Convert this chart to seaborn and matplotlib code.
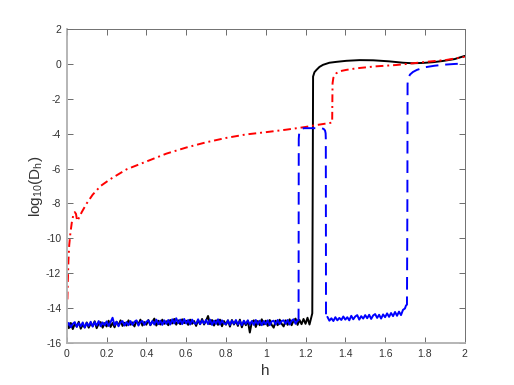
import numpy as np
import matplotlib
matplotlib.use("Agg")
import matplotlib.pyplot as plt
import seaborn as sns

# black curve: noisy floor (h = 0.00 .. 1.23, step 0.01) then the jump
black_noise = [
    -14.80, -15.15, -14.85, -15.20, -14.90, -15.05, -14.78, -15.18, -14.95, -15.10,
    -14.82, -15.12, -14.88, -15.02, -14.75, -15.15, -14.90, -14.80, -15.12, -14.86,
    -15.05, -14.72, -15.08, -14.85, -15.10, -14.78, -14.98, -14.70, -15.02, -14.84,
    -15.00, -14.70, -14.95, -14.82, -15.05, -14.74, -14.92, -14.66, -15.00, -14.80,
    -14.95, -14.68, -14.98, -14.78, -14.60, -15.00, -14.72, -14.94, -14.66, -14.90,
    -14.75, -14.98, -14.68, -14.88, -14.62, -14.95, -14.70, -14.92, -14.64, -14.86,
    -14.72, -14.96, -14.66, -14.90, -14.74, -15.02, -14.70, -14.92, -14.62, -14.94,
    -14.72, -14.45, -14.92, -14.68, -15.00, -14.70, -14.96, -14.66, -15.04, -14.74,
    -14.95, -14.70, -15.06, -14.68, -14.94, -14.74, -15.02, -14.66, -15.10, -14.76,
    -14.98, -14.72, -15.40, -14.80, -14.70, -15.08, -14.74, -14.98, -14.64, -14.94,
    -14.72, -15.02, -14.68, -14.96, -15.12, -14.72, -14.98, -14.66, -14.90, -15.05,
    -14.70, -14.96, -14.64, -14.98, -14.72, -14.60, -14.96, -14.68, -14.92, -14.62,
    -14.90, -14.55, -14.94, -14.50,
]
black_top_h = [1.234, 1.236, 1.238, 1.245, 1.255, 1.270, 1.288, 1.320, 1.355, 1.405,
               1.472, 1.540, 1.620, 1.690, 1.740, 1.790, 1.840, 1.890, 1.950, 2.000]
black_top_v = [-14.30, -8.00, -0.73, -0.48, -0.35, -0.18, -0.06, 0.06, 0.11, 0.17,
               0.21, 0.20, 0.14, 0.06, 0.03, 0.05, 0.09, 0.16, 0.27, 0.45]

# blue curve: floor, plateau near -3.7, second floor, final rise
blue_noise1 = [
    -15.05, -14.85, -15.10, -14.90, -14.80, -15.08, -14.86, -15.04, -14.82, -15.12,
    -14.85, -15.02, -14.78, -15.06, -14.80, -15.00, -14.74, -15.04, -14.82, -14.98,
    -14.76, -15.02, -14.80, -14.55, -14.98, -14.78, -15.04, -14.82, -14.74, -15.00,
    -14.80, -14.98, -14.74, -14.96, -14.78, -14.70, -15.00, -14.80, -14.74, -14.96,
    -14.78, -14.70, -14.96, -14.74, -14.94, -14.66, -14.92, -14.72, -14.96, -14.70,
    -14.90, -14.68, -14.94, -14.64, -14.88, -14.58, -14.86, -14.66, -14.92, -14.62,
    -14.88, -14.68, -14.94, -14.66, -14.86, -14.90, -14.64, -14.92, -14.70, -14.88,
    -14.68, -14.92, -14.66, -14.96, -14.72, -14.90, -14.64, -14.94, -14.70, -14.88,
    -14.92, -14.70, -14.96, -14.72, -14.90, -14.68, -14.94, -14.74, -14.98, -14.72,
    -14.90, -14.70, -14.94, -14.74, -14.96, -14.68, -14.92, -14.72, -14.98, -14.74,
    -14.92, -14.70, -14.98, -14.76, -14.72, -14.94, -14.68, -14.92, -14.74, -14.70,
    -14.90, -14.68, -14.94, -14.72, -14.64, -14.90, -14.70,
]
blue_plateau_h = [1.160, 1.165, 1.166, 1.168, 1.172, 1.180, 1.192, 1.280, 1.291, 1.298,
                  1.301, 1.302, 1.303, 1.310]
blue_plateau_v = [-14.70, -14.70, -4.30, -3.98, -3.82, -3.73, -3.69, -3.69, -3.73, -3.82,
                  -3.98, -4.30, -14.50, -14.50]
blue_noise2 = [
    -14.50, -14.72, -14.58, -14.74, -14.52, -14.70, -14.56, -14.68, -14.48, -14.66,
    -14.52, -14.70, -14.44, -14.64, -14.48, -14.40, -14.66, -14.46, -14.60, -14.40,
    -14.58, -14.38, -14.62, -14.42, -14.34, -14.56, -14.38, -14.60, -14.36, -14.52,
    -14.30, -14.50, -14.28, -14.46, -14.22, -14.44, -14.20, -14.40, -14.10, -14.02,
]
blue_top_h = [1.700, 1.705, 1.710, 1.712, 1.713, 1.716, 1.725, 1.740, 1.760, 1.800,
              1.850, 1.900, 1.950, 2.000]
blue_top_v = [-14.02, -13.85, -13.80, -8.00, -1.15, -0.85, -0.62, -0.47, -0.35, -0.20,
              -0.11, -0.05, -0.01, 0.02]

# red curve
red_h = [0.003, 0.005, 0.008, 0.012, 0.018, 0.025, 0.032, 0.040, 0.046, 0.052,
         0.060, 0.075, 0.100, 0.130, 0.170, 0.220, 0.300, 0.400, 0.500, 0.600,
         0.700, 0.800, 0.900, 1.000, 1.100, 1.200, 1.250, 1.300, 1.334, 1.335,
         1.336, 1.340, 1.355, 1.375, 1.405, 1.456, 1.550, 1.657, 1.740, 1.824,
         1.908, 2.000]
red_v = [-13.50, -12.50, -11.30, -10.40, -9.70, -9.10, -8.70, -8.50, -8.60, -9.00,
         -8.85, -8.50, -8.00, -7.50, -7.00, -6.60, -6.05, -5.60, -5.15, -4.80,
         -4.50, -4.25, -4.05, -3.92, -3.78, -3.62, -3.52, -3.43, -3.37, -2.00,
         -1.11, -0.80, -0.54, -0.42, -0.35, -0.26, -0.15, -0.07, 0.03, 0.13,
         0.22, 0.40]

black_h = list(np.round(np.arange(len(black_noise)) * 0.01, 2)) + black_top_h
black_v = black_noise + black_top_v
blue1_h = list(np.round(np.arange(len(blue_noise1)) * 0.01, 2))
blue2_h = list(np.round(1.31 + np.arange(len(blue_noise2)) * 0.01, 2))

sns.set_style("white")
plt.rcParams["font.family"] = ["Liberation Sans", "DejaVu Sans"]
plt.rcParams["mathtext.default"] = "regular"

fig = plt.figure(figsize=(5.14, 3.85), dpi=100)
ax = fig.add_axes([0.13, 0.109, 0.774, 0.816])

lw = 1.4
sns.lineplot(x=black_h, y=black_v, ax=ax, color="black", linewidth=lw,
             sort=False, estimator=None)
sns.lineplot(x=red_h, y=red_v, ax=ax, color="#ff0000", linewidth=lw,
             sort=False, estimator=None)
ax.lines[-1].set_dashes([4, 2, 1, 2])

# blue: the noisy floors look solid in the reference (dense zigzag), the rest dashed
sns.lineplot(x=blue1_h, y=blue_noise1, ax=ax, color="#0000ff", linewidth=lw,
             sort=False, estimator=None)
sns.lineplot(x=blue2_h, y=blue_noise2, ax=ax, color="#0000ff", linewidth=lw,
             sort=False, estimator=None)
for hh, vv in [(blue_plateau_h, blue_plateau_v), (blue_top_h, blue_top_v)]:
    sns.lineplot(x=hh, y=vv, ax=ax, color="#0000ff", linewidth=lw,
                 sort=False, estimator=None)
    ax.lines[-1].set_dashes([6.5, 3.5])

ax.set_xlim(0, 2)
ax.set_ylim(-16, 2)
ax.set_xticks(np.arange(0, 2.01, 0.2))
ax.set_xticklabels(["0", "0.2", "0.4", "0.6", "0.8", "1", "1.2", "1.4", "1.6", "1.8", "2"])
ax.set_yticks(np.arange(-16, 2.1, 2))
ax.set_yticklabels([str(v) for v in range(-16, 3, 2)])
ax.tick_params(direction="in", length=4, width=0.6, color="#555555",
               labelsize=7.5, labelcolor="#333333", top=True, right=True,
               left=True, bottom=True, pad=4)
for side in ["top", "right"]:
    ax.spines[side].set_color("#707070")
    ax.spines[side].set_linewidth(0.7)
for side in ["left", "bottom"]:
    ax.spines[side].set_color("#b0b0b0")
    ax.spines[side].set_linewidth(1.3)

ax.set_xlabel("h", fontsize=11, color="#333333")
ax.set_ylabel("log$_{10}$(D$_h$)", fontsize=11, color="#333333", labelpad=1)

fig.savefig("out.png", dpi=100)
